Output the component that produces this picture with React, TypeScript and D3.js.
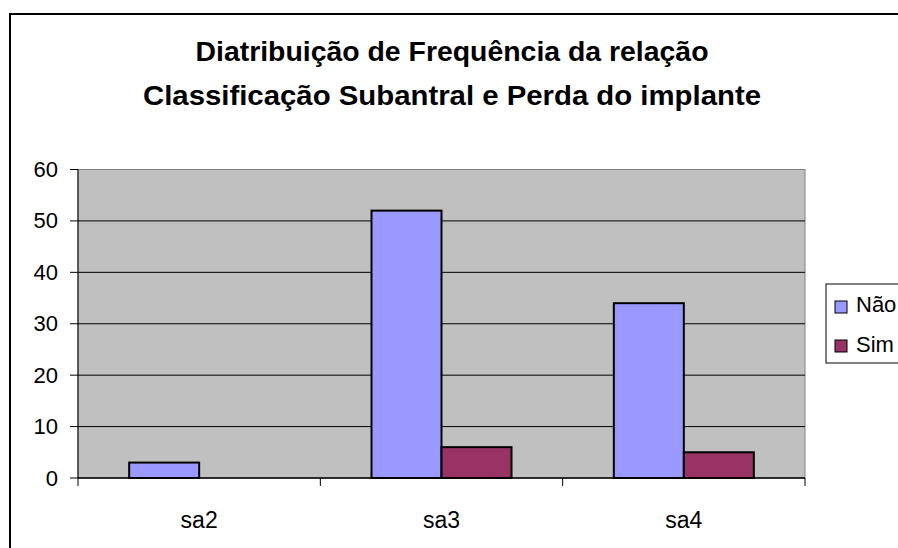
import React from "react";
import * as d3 from "d3";

const categories = ["sa2", "sa3", "sa4"];
const seriesNames = ["Não", "Sim"];
const naoValues = [3, 52, 34];
const simValues = [0, 6, 5];
const yTicks = [0, 10, 20, 30, 40, 50, 60];
const titleLines = [
  "Diatribuição de Frequência da relação",
  "Classificação Subantral e Perda do implante",
];
const colors = ["#9999ff", "#993366"];

export default function App() {
  const W = 898, H = 548;
  const left = 78, right = 805, top = 169.5, bottom = 478;
  const x0 = d3.scaleBand<string>().domain(categories).range([left, right]).paddingInner(0).paddingOuter(0);
  const bw = x0.bandwidth();
  const barW = 70;
  const x1 = d3.scaleBand<string>().domain(seriesNames).range([0, barW * 2]);
  const y = d3.scaleLinear().domain([0, 60]).range([bottom, top]);
  const seriesVals = [naoValues, simValues];
  const font = "'Liberation Sans', Arial, sans-serif";
  const titleWidths = [513, 618];
  const titleY = [61, 105];

  return (
    <svg width={W} height={H} style={{ position: "absolute", left: 0, top: 0, display: "block" }}>
      <rect x={0} y={0} width={W} height={H} fill="#fff" />
      <rect x={10} y={14} width={W + 20} height={H + 20} fill="#fff" stroke="#000" strokeWidth={2} />
      {titleLines.map((t, i) => (
        <text
          key={i}
          x={452}
          y={titleY[i]}
          textAnchor="middle"
          fontFamily={font}
          fontWeight="bold"
          fontSize={27}
          textLength={titleWidths[i]}
          lengthAdjust="spacingAndGlyphs"
          fill="#000"
        >
          {t}
        </text>
      ))}
      <rect x={left} y={top} width={right - left} height={bottom - top} fill="#c0c0c0" stroke="#808080" strokeWidth={1} />
      {yTicks.filter((t) => t > 0 && t < 60).map((t) => (
        <line key={t} x1={left} x2={right} y1={y(t)} y2={y(t)} stroke="#000" strokeWidth={1} />
      ))}
      {categories.map((c, ci) =>
        seriesNames.map((s, si) => {
          const v = seriesVals[si][ci];
          if (v <= 0) return null;
          const bx = (x0(c) as number) + (bw - barW * 2) / 2 + (x1(s) as number);
          return (
            <rect key={c + s} x={bx} y={y(v)} width={barW} height={y(0) - y(v)} fill={colors[si]} stroke="#000" strokeWidth={2} />
          );
        })
      )}
      <line x1={left} x2={left} y1={top} y2={bottom} stroke="#000" strokeWidth={1} />
      <line x1={left} x2={right} y1={bottom} y2={bottom} stroke="#000" strokeWidth={1.5} />
      {yTicks.map((t) => (
        <g key={t}>
          <line x1={left - 8} x2={left} y1={y(t)} y2={y(t)} stroke="#000" strokeWidth={1} />
          <text x={58} y={y(t) + 7.5} textAnchor="end" fontFamily={font} fontSize={22} fill="#000">
            {t}
          </text>
        </g>
      ))}
      {[...categories.map((c) => x0(c) as number), right].map((xv, i) => (
        <line key={i} x1={xv} x2={xv} y1={bottom} y2={bottom + 8} stroke="#000" strokeWidth={1} />
      ))}
      {categories.map((c) => (
        <text key={c} x={(x0(c) as number) + bw / 2} y={528} textAnchor="middle" fontFamily={font} fontSize={23} fill="#000">
          {c}
        </text>
      ))}
      <rect x={826} y={284} width={W} height={79} fill="#fff" stroke="#000" strokeWidth={1} />
      {seriesNames.map((s, i) => (
        <g key={s}>
          <rect x={835} y={301 + i * 39} width={12} height={12} fill={colors[i]} stroke="#000" strokeWidth={1} />
          <text x={856} y={312 + i * 40} fontFamily={font} fontSize={22} fill="#000">
            {s}
          </text>
        </g>
      ))}
    </svg>
  );
}
